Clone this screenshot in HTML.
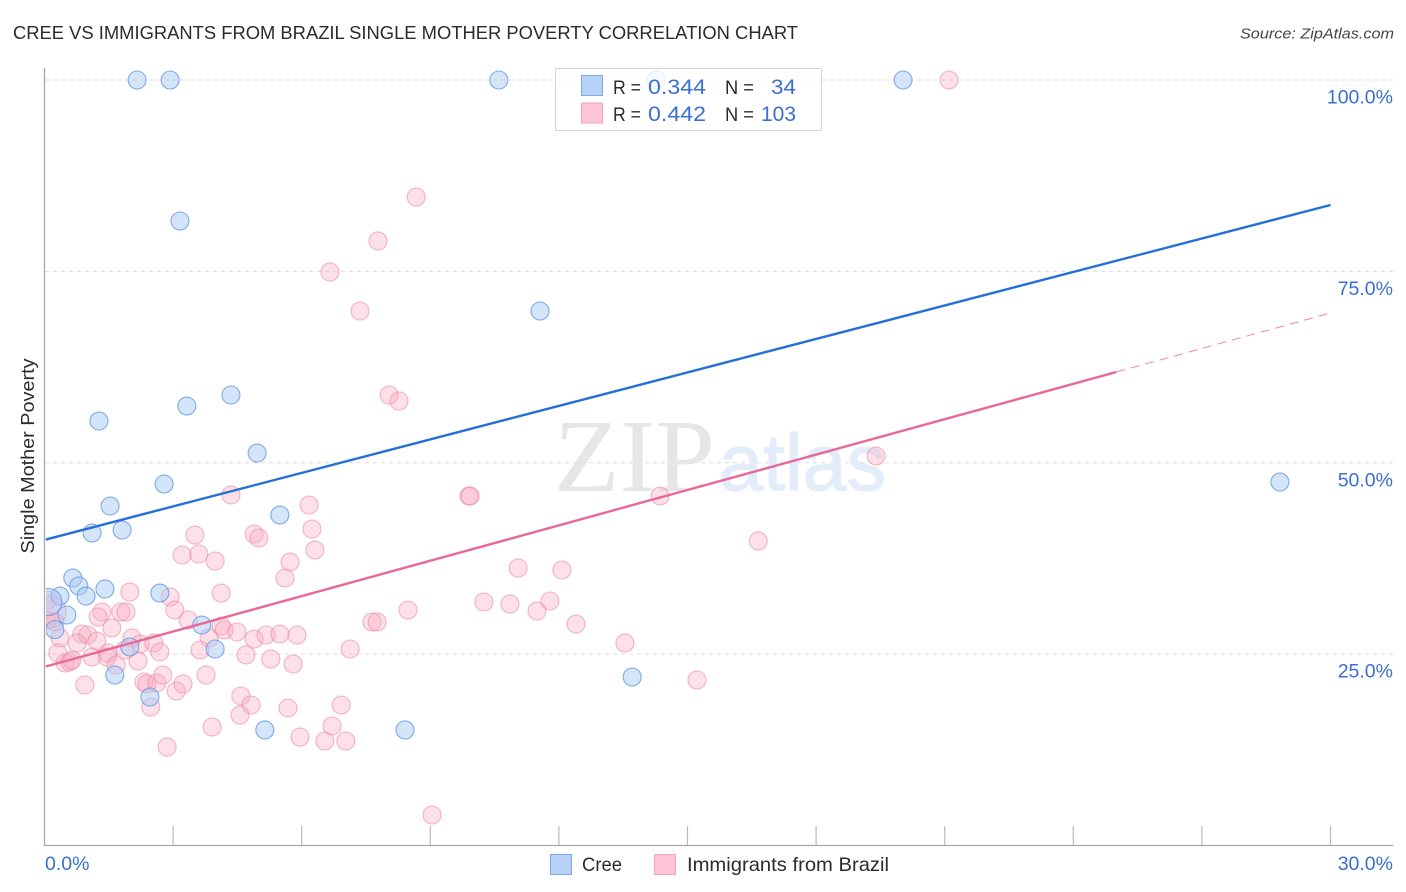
<!DOCTYPE html>
<html lang="en">
<head>
<meta charset="utf-8">
<title>Cree vs Immigrants from Brazil Single Mother Poverty Correlation Chart</title>
<style>
html,body{margin:0;padding:0;background:#fff;width:1406px;height:892px;overflow:hidden}
svg{display:block}
text{font-family:"Liberation Sans",sans-serif}
</style>
</head>
<body>
<svg id="chart" width="1406" height="892" viewBox="0 0 1406 892" xmlns="http://www.w3.org/2000/svg">
  <text x="13" y="39" font-size="18.5" fill="#2b2b2b" textLength="785" lengthAdjust="spacingAndGlyphs">CREE VS IMMIGRANTS FROM BRAZIL SINGLE MOTHER POVERTY CORRELATION CHART</text>
  <text x="1394" y="38.5" font-size="15" font-style="italic" fill="#444" text-anchor="end" textLength="154" lengthAdjust="spacingAndGlyphs">Source: ZipAtlas.com</text>
  <text transform="translate(34,456) rotate(-90)" font-size="18.5" fill="#2b2b2b" text-anchor="middle" textLength="195" lengthAdjust="spacingAndGlyphs">Single Mother Poverty</text>
  <g id="grid"></g>
  <g>
    <text x="554" y="491" style="font-family:'Liberation Serif',serif" font-size="104" fill="#e6e6e6" textLength="161" lengthAdjust="spacingAndGlyphs">ZIP</text>
    <text x="719" y="490" font-size="80" fill="#e3edf9" stroke="#e3edf9" stroke-width="1.2" textLength="167" lengthAdjust="spacingAndGlyphs">atlas</text>
  </g>
  <g id="axes"></g>
  <svg x="46" y="60" width="1348" height="785" viewBox="46 60 1348 785" overflow="hidden">
    <g id="points"></g>
  </svg>
  <g id="trends"></g>
  <g>
    <rect x="555.5" y="68.5" width="266" height="62" fill="#fff" fill-opacity="0.8" stroke="#d4d4d4" stroke-width="1"/>
    <rect x="581.5" y="75.5" width="21" height="20" fill="#b6d2f6" stroke="#7fa9e6"/>
    <rect x="581.5" y="103" width="21" height="20" fill="#fec5d6" stroke="#f0a3ba"/>
    <text x="613" y="94" font-size="19.5" fill="#2b2b2b" textLength="28" lengthAdjust="spacingAndGlyphs">R =</text>
    <text x="648" y="94" font-size="21" fill="#3a6fd0" textLength="58" lengthAdjust="spacingAndGlyphs">0.344</text>
    <text x="725" y="94" font-size="19.5" fill="#2b2b2b" textLength="29" lengthAdjust="spacingAndGlyphs">N =</text>
    <text x="771" y="94" font-size="21" fill="#3a6fd0" textLength="25" lengthAdjust="spacingAndGlyphs">34</text>
    <text x="613" y="121" font-size="19.5" fill="#2b2b2b" textLength="28" lengthAdjust="spacingAndGlyphs">R =</text>
    <text x="648" y="121" font-size="21" fill="#3a6fd0" textLength="58" lengthAdjust="spacingAndGlyphs">0.442</text>
    <text x="725" y="121" font-size="19.5" fill="#2b2b2b" textLength="29" lengthAdjust="spacingAndGlyphs">N =</text>
    <text x="761" y="121" font-size="21" fill="#3a6fd0" textLength="35" lengthAdjust="spacingAndGlyphs">103</text>
  </g>
  <g>
    <rect x="550.5" y="854.5" width="21" height="20" fill="#b6d2f6" stroke="#7fa9e6"/>
    <text x="582" y="871" font-size="19.5" fill="#2b2b2b" textLength="40" lengthAdjust="spacingAndGlyphs">Cree</text>
    <rect x="654.5" y="854.5" width="21" height="20" fill="#fec5d6" stroke="#f0a3ba"/>
    <text x="687" y="871" font-size="19.5" fill="#2b2b2b" textLength="202" lengthAdjust="spacingAndGlyphs">Immigrants from Brazil</text>
  </g>
</svg>
<script>
const creeX = [2.16,2.93,10.60,14.27,20.03,3.16,11.56,4.35,3.32,1.27,4.96,2.79,1.53,5.49,1.11,1.81,28.82,0.66,0.80,0.97,0.36,1.41,2.69,0.09,0.52,0.24,3.67,3.98,1.99,1.64,13.71,2.46,5.14,8.41];
const creeY = [100,100,100,100,100,81.58,69.82,58.85,57.41,55.45,51.27,47.22,44.35,43.17,40.82,41.21,47.48,34.94,33.90,32.59,32.59,33.51,32.98,31.81,30.11,28.20,28.80,25.67,25.93,22.27,22.01,19.40,15.09,15.09];
const brazilX = [21.10,8.67,7.78,6.66,7.36,8.04,8.27,19.40,4.35,6.17,9.90,9.93,14.36,6.24,4.89,5.00,3.51,6.31,3.21,3.60,3.98,5.73,5.61,16.65,11.05,12.07,10.25,10.86,11.79,11.49,8.48,7.64,7.76,12.40,13.54,7.13,15.22,6.92,6.71,6.54,7.03,5.96,9.04,
  1.99,2.93,3.04,4.12,1.34,1.25,1.78,1.90,1.57,0.87,1.01,0.76,1.22,0.36,2.04,2.23,2.55,2.69,3.35,4.12,4.19,4.49,3.84,3.63,4.89,5.17,5.49,5.89,4.70,5.28,5.80,0.31,0.48,0.59,0.64,1.11,1.48,1.46,1.67,2.18,1.88,0.94,2.32,2.39,2.62,2.76,3.07,3.23,3.77,4.58,4.82,4.56,5.68,3.91,2.86,2.48,0.08,0.13,0.06,0.24];
const brazilY = [100,84.71,78.97,74.92,69.82,58.85,58.07,50.88,45.79,44.48,45.65,45.65,45.65,41.34,40.69,40.17,40.56,38.60,37.95,38.08,37.16,37.03,34.94,39.78,36.25,35.99,31.81,31.55,31.94,30.63,30.76,29.20,29.20,28.93,26.45,25.67,21.62,18.35,15.61,13.65,13.65,14.17,3.98,
  33.11,32.46,30.76,32.98,30.50,29.85,30.50,30.50,28.41,27.63,27.50,26.45,26.71,27.11,27.11,26.32,26.45,25.28,29.46,28.67,28.15,27.89,27.11,25.54,26.97,27.50,27.63,27.50,24.89,24.36,23.71,25.15,23.84,23.97,24.23,24.62,25.15,24.62,23.58,24.10,25.54,20.97,21.36,21.10,21.23,22.27,20.18,21.10,22.27,19.53,18.35,17.05,17.96,15.48,12.87,18.09,32.07,30.50,29.46,29.20];
const creeWeightedValue = 31.81;
const brazilWeightedValue = 30.50;
const creeTrend = [0.03,39.97,30,83.67];
const brazilTrendSolid = [0.03,23.38,25,61.85];
const brazilTrendDashed = [25,61.85,30,69.56];
const yTickValues = [100,75,50,25];
const yTickLabels = ['100.0%','75.0%','50.0%','25.0%'];
const xTickValues = [3,6,9,12,15,18,21,24,27,30];
const xEndLabels = ['0.0%','30.0%'];

const NS = 'http://www.w3.org/2000/svg';
const xScale = v => 44.5 + v * (1286 / 30);
const yScale = v => 845.5 - v * 7.655;
function mk(parent, tag, attrs, txt) {
  const el = document.createElementNS(NS, tag);
  for (const k in attrs) el.setAttribute(k, attrs[k]);
  if (txt !== undefined) el.textContent = txt;
  parent.appendChild(el);
  return el;
}
const grid = document.getElementById('grid');
const axes = document.getElementById('axes');
const points = document.getElementById('points');
const trends = document.getElementById('trends');

yTickValues.forEach((v, i) => {
  const line = mk(grid, 'line', {x1: 45, x2: 1393, y1: yScale(v), y2: yScale(v), stroke: '#dcdcdc', 'stroke-width': 1, 'stroke-dasharray': '4 4'});
  
  
  const label = mk(axes, 'text', {x: 1393, y: yScale(v) + 23.5, 'font-size': 19.5, fill: '#3a6fd0', 'text-anchor': 'end'}, yTickLabels[i]);
  
  
});
const yAxis = mk(axes, 'line', {x1: 44.5, x2: 44.5, y1: 68, y2: 846, stroke: '#a8a8a8', 'stroke-width': 1.3});


const xAxis = mk(axes, 'line', {x1: 44, x2: 1393, y1: 845.5, y2: 845.5, stroke: '#a8a8a8', 'stroke-width': 1.3});


xTickValues.forEach(v => {
  const tick = mk(axes, 'line', {x1: xScale(v), x2: xScale(v), y1: 826, y2: 845, stroke: '#bbbbbb', 'stroke-width': 1.2});
  
  
});
const xLabelStart = mk(axes, 'text', {x: 45, y: 870, 'font-size': 19.5, fill: '#3a6fd0'}, xEndLabels[0]);


const xLabelEnd = mk(axes, 'text', {x: 1393, y: 870, 'font-size': 19.5, fill: '#3a6fd0', 'text-anchor': 'end'}, xEndLabels[1]);



brazilX.forEach((v, i) => {
  const big = v < 0.2 && brazilY[i] === brazilWeightedValue;
  const c = mk(points, 'circle', {cx: xScale(v), cy: yScale(brazilY[i]), r: big ? 16 : 9, fill: '#f9a8c0', 'fill-opacity': 0.36, stroke: '#ea87a5', 'stroke-opacity': 0.6, 'stroke-width': 1.1});
  
  
});
creeX.forEach((v, i) => {
  const big = v < 0.2 && creeY[i] === creeWeightedValue;
  const c = mk(points, 'circle', {cx: xScale(v), cy: yScale(creeY[i]), r: big ? 13.5 : 9, fill: '#a9c9f3', 'fill-opacity': 0.5, stroke: '#5a93e3', 'stroke-opacity': 0.75, 'stroke-width': 1.1});
  
  
});

const creeLine = mk(trends, 'line', {x1: xScale(creeTrend[0]), y1: yScale(creeTrend[1]), x2: xScale(creeTrend[2]), y2: yScale(creeTrend[3]), stroke: '#2470d6', 'stroke-width': 2.4});


const brazilLine = mk(trends, 'line', {x1: xScale(brazilTrendSolid[0]), y1: yScale(brazilTrendSolid[1]), x2: xScale(brazilTrendSolid[2]), y2: yScale(brazilTrendSolid[3]), stroke: '#e8689a', 'stroke-width': 2.4});


const brazilDash = mk(trends, 'line', {x1: xScale(brazilTrendDashed[0]), y1: yScale(brazilTrendDashed[1]), x2: xScale(brazilTrendDashed[2]), y2: yScale(brazilTrendDashed[3]), stroke: '#e8689a', 'stroke-width': 1, 'stroke-dasharray': '9 6', 'stroke-opacity': 0.8});


</script>
</body>
</html>
